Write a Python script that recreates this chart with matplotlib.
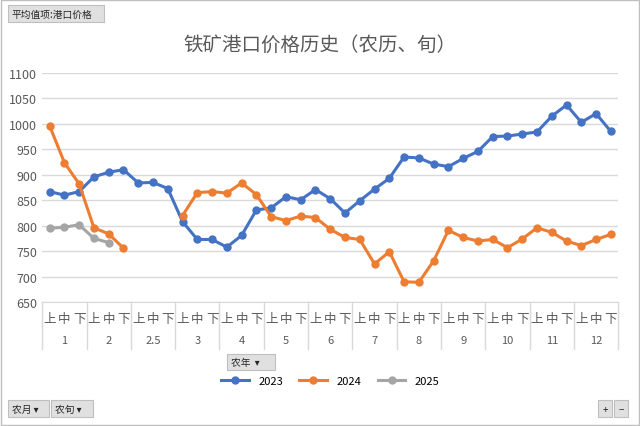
import matplotlib.pyplot as plt
import matplotlib.transforms as mtransforms
import numpy as np

plt.rcParams['font.family'] = ['Noto Sans CJK SC', 'DejaVu Sans']

months = ['1', '2', '2.5', '3', '4', '5', '6', '7', '8', '9', '10', '11', '12']
xun = ['上', '中', '下']
y2023 = [867, 860, 867, 896, 905, 910, 884, 885, 873, 808, 773, 773, 758, 781, 831,
         835, 857, 851, 871, 853, 825, 849, 872, 893, 935, 933, 921, 916, 932, 946,
         975, 976, 980, 984, 1015, 1037, 1003, 1020, 985]
y2024 = [996, 924, 882, 796, 784, 756, None, None, None, 820, 865, 867, 864, 884, 861,
         818, 810, 819, 816, 793, 777, 773, 725, 749, 690, 689, 731, 791, 777, 770,
         773, 757, 774, 796, 787, 770, 761, 773, 783]
y2025 = [795, 797, 802, 775, 767]

fig = plt.figure(figsize=(6.4, 4.27), dpi=100)
ax = fig.add_axes([0.066, 0.29, 0.9, 0.537])
n = len(months) * 3
x = np.arange(n)

def arr(v):
    return np.array([np.nan if a is None else a for a in v], dtype=float)

series = [('2023', y2023, '#4472C4'), ('2024', y2024, '#ED7D31'), ('2025', y2025, '#A5A5A5')]
for name, vals, c in series:
    ax.plot(x[:len(vals)], arr(vals), color=c, lw=2.2, marker='o', ms=5, label=name)

ax.set_xlim(-0.5, n - 0.5)
ax.set_ylim(650, 1100)
ax.set_yticks(range(650, 1101, 50))
ax.tick_params(axis='y', length=0, labelsize=9, colors='#595959')
ax.grid(axis='y', color='#D9D9D9', lw=1)
ax.set_axisbelow(True)
for s in ax.spines.values():
    s.set_visible(False)
ax.spines['bottom'].set_visible(True)
ax.spines['bottom'].set_color('#D9D9D9')
ax.set_xticks([])

tr = mtransforms.blended_transform_factory(ax.transData, ax.transAxes)
for i in range(n):
    ax.text(i, -0.07, xun[i % 3], transform=tr, ha='center', va='center', fontsize=9, color='#595959')
for j, m in enumerate(months):
    ax.text(j * 3 + 1, -0.165, m, transform=tr, ha='center', va='center', fontsize=8, color='#595959')
for j in range(len(months) + 1):
    ax.plot([j * 3 - 0.5] * 2, [0, -0.205], transform=tr, color='#D9D9D9', lw=1, clip_on=False)

fig.text(0.5, 0.895, '铁矿港口价格历史（农历、旬）', ha='center', va='center', fontsize=14, color='#595959')
ax.legend(loc='center', bbox_to_anchor=(0.5, -0.345), ncol=3, frameon=False, fontsize=8,
          handlelength=2.5, columnspacing=1.5)

def button(x0, y0, w, h, text):
    fig.patches.append(plt.Rectangle((x0, y0), w, h, transform=fig.transFigure,
                                     facecolor='#E0E0E0', edgecolor='#BFBFBF', lw=0.8))
    fig.text(x0 + 0.006, y0 + h / 2, text, fontsize=7, va='center', color='#262626')

button(0.012, 0.945, 0.15, 0.04, '平均值项:港口价格')
button(0.355, 0.13, 0.075, 0.038, '农年  ▾')
button(0.012, 0.02, 0.065, 0.04, '农月 ▾')
button(0.08, 0.02, 0.065, 0.04, '农旬 ▾')
button(0.935, 0.02, 0.022, 0.04, '+')
button(0.96, 0.02, 0.022, 0.04, '−')
fig.patches.append(plt.Rectangle((0.002, 0.002), 0.996, 0.996, transform=fig.transFigure,
                                 facecolor='none', edgecolor='#BFBFBF', lw=1))

fig.savefig('out.png', dpi=100)
